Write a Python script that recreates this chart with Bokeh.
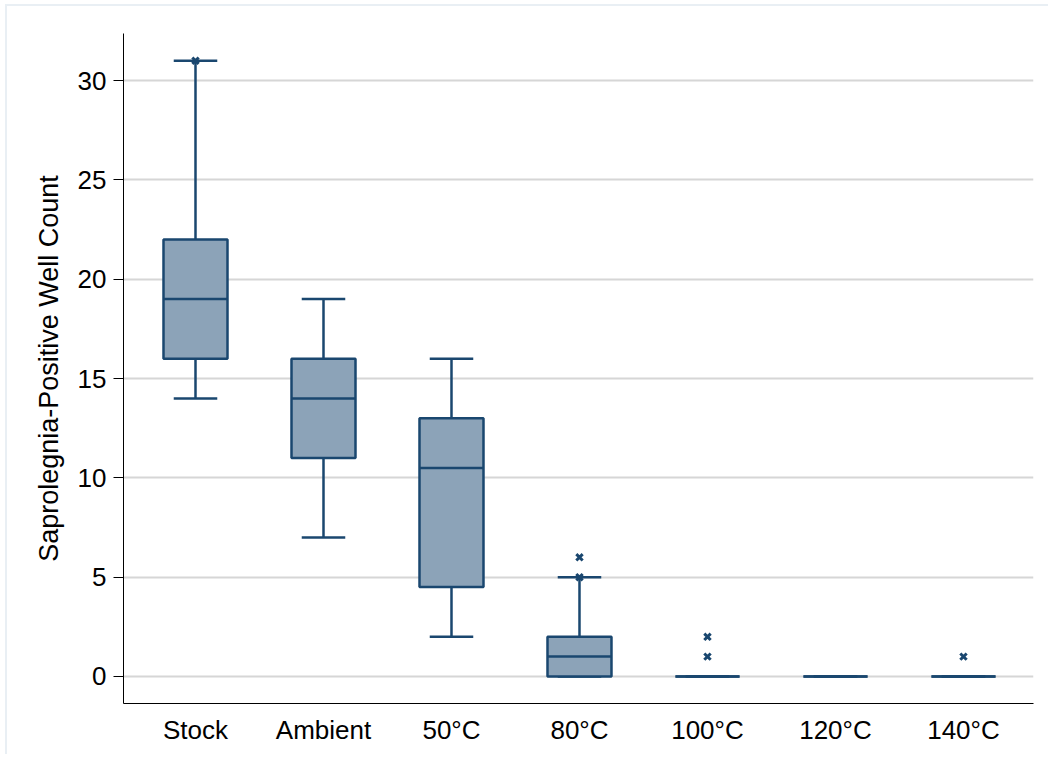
from bokeh.plotting import figure
from bokeh.models import Range1d, FixedTicker, ColumnDataSource
from bokeh.embed import file_html
from bokeh.resources import INLINE

categories = ["Stock", "Ambient", "50°C", "80°C", "100°C", "120°C", "140°C"]
whisker_low = [14, 7, 2, 0, 0, 0, 0]
q1 = [16, 11, 4.5, 0, 0, 0, 0]
median = [19, 14, 10.5, 1, 0, 0, 0]
q3 = [22, 16, 13, 2, 0, 0, 0]
whisker_high = [31, 19, 16, 5, 0, 0, 0]
outlier_group = [0, 3, 3, 4, 4, 6]
outlier_value = [31, 5, 6, 1, 2, 1]
y_ticks = [0, 5, 10, 15, 20, 25, 30]

NAVY = "#1a476f"
FILL = "#8ca3b8"
FONT = "Liberation Sans"

xs = list(range(len(categories)))
box_w = 0.5
cap_w = 0.34

src = ColumnDataSource(dict(
    x=xs,
    lo=whisker_low, q1=q1, med=median, q3=q3, hi=whisker_high,
    bl=[x - box_w / 2 for x in xs], br=[x + box_w / 2 for x in xs],
    cl=[x - cap_w / 2 for x in xs], cr=[x + cap_w / 2 for x in xs],
))
osrc = ColumnDataSource(dict(x=outlier_group, y=outlier_value))

p = figure(width=1043, height=750, output_backend="svg", toolbar_location=None,
           x_range=Range1d(-0.5625, 6.547), y_range=Range1d(-1.36, 32.37),
           min_border_left=116, min_border_right=17, min_border_top=27, min_border_bottom=53)
p.margin = (4, 0, 0, 5)
p.styles = {"border-top": "2px solid #e9eff4", "border-left": "2px solid #e9eff4"}

p.outline_line_color = None
p.background_fill_color = "white"
p.border_fill_color = "white"

# gridlines
p.xgrid.grid_line_color = None
p.ygrid.grid_line_color = "#d6d6d6"
p.ygrid.grid_line_width = 2
p.yaxis.ticker = FixedTicker(ticks=y_ticks)
p.xaxis.ticker = FixedTicker(ticks=xs)
p.xaxis.major_label_overrides = {i: c for i, c in enumerate(categories)}

for ax in (p.xaxis, p.yaxis):
    ax.axis_line_color = "black"
    ax.axis_line_width = 1
    ax.major_label_text_font = FONT
    ax.major_label_text_font_size = "26px"
    ax.major_label_text_color = "black"
    ax.minor_tick_line_color = None
    ax.major_tick_in = 0

p.yaxis.major_tick_out = 10
p.yaxis.major_tick_line_color = "black"
p.yaxis.major_label_standoff = 7
p.yaxis.axis_label = "Saprolegnia-Positive Well Count"
p.yaxis.axis_label_text_font = FONT
p.yaxis.axis_label_text_font_size = "27px"
p.yaxis.axis_label_text_font_style = "normal"
p.yaxis.axis_label_text_color = "black"
p.yaxis.axis_label_standoff = 11

p.xaxis.major_tick_out = 0
p.xaxis.major_tick_line_color = None
p.xaxis.major_label_standoff = 11

# whiskers
p.segment(x0="x", y0="q3", x1="x", y1="hi", source=src, line_color=NAVY, line_width=2.5)
p.segment(x0="x", y0="lo", x1="x", y1="q1", source=src, line_color=NAVY, line_width=2.5)
p.segment(x0="cl", y0="hi", x1="cr", y1="hi", source=src, line_color=NAVY, line_width=2.5)
p.segment(x0="cl", y0="lo", x1="cr", y1="lo", source=src, line_color=NAVY, line_width=2.5)
# boxes
p.vbar(x="x", bottom="q1", top="q3", width=box_w, source=src,
       fill_color=FILL, line_color=NAVY, line_width=2.5)
p.segment(x0="bl", y0="med", x1="br", y1="med", source=src, line_color=NAVY, line_width=2.5)
# outliers
p.scatter(x="x", y="y", source=osrc, marker="x", size=9, line_color=NAVY, line_width=3)

open("out.html", "w").write(file_html(p, INLINE))
